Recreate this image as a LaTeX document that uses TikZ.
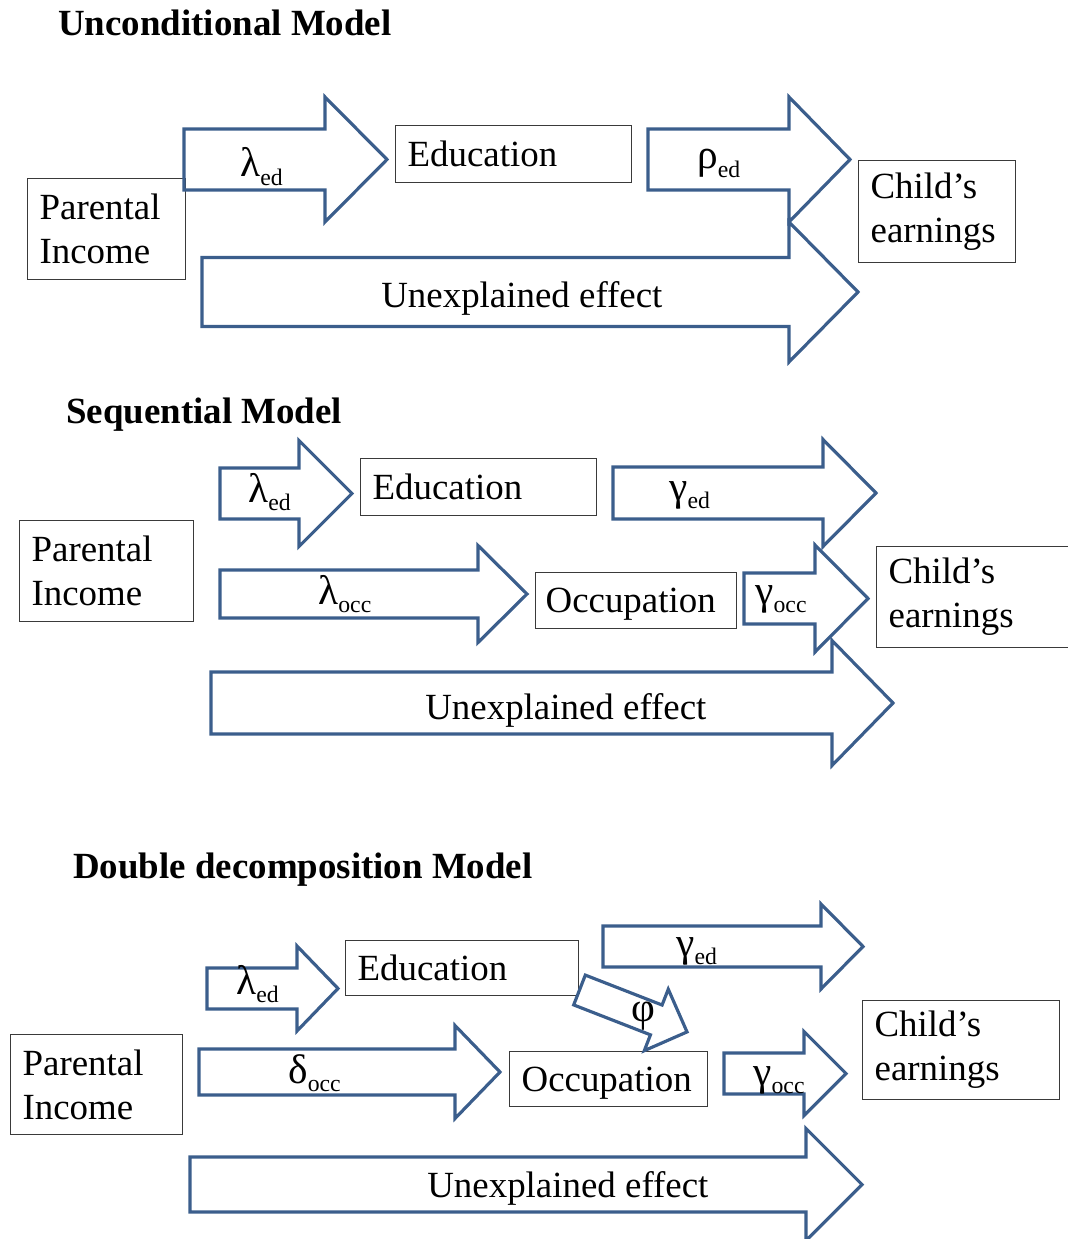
\documentclass[tikz,border=0pt]{standalone}
\usepackage{fontspec}
\setmainfont{Liberation Serif}
\usepackage{xcolor}
\usetikzlibrary{positioning}

\definecolor{arrowblue}{HTML}{3B5E8C}
\definecolor{boxgray}{HTML}{3A3A3A}

% coefficient with lowered index
\newcommand{\lowsub}[1]{\raisebox{-5pt}{\fontsize{13.5}{14}\selectfont #1}}
\newcommand{\coef}[2]{{\fontsize{23.5}{26}\selectfont #1}\lowsub{#2}}
% block arrow: left x, mid y, shaft half, head base x, head half, tip x
\newcommand{\bigarrow}[6]{%
  \draw[barrow] (#1,#2-#3) -- (#4,#2-#3) -- (#4,#2-#5) -- (#6,#2) -- (#4,#2+#5) -- (#4,#2+#3) -- (#1,#2+#3) -- cycle;}

\begin{document}
\begin{tikzpicture}[
    x=0.02cm, y=-0.02cm,
    font=\fontsize{21}{25}\selectfont,
    barrow/.style={draw=arrowblue, line width=1.8pt, line join=miter},
    box/.style={rectangle, draw=boxgray, line width=0.7pt, anchor=north west, align=left, inner xsep=0.24cm, inner ysep=0pt},
    onebox/.style={box, text depth=0pt},
    lbl/.style={anchor=base west, inner sep=0pt},
    ttl/.style={anchor=base west, inner sep=0pt, font=\fontsize{21}{25}\selectfont\bfseries}
]
\useasboundingbox (0,0) rectangle (1067,1239);

% Unconditional model
\node[ttl] (ttlU) at (58,36) {Unconditional Model};
\node[box, text width=2.68cm, minimum height=2.02cm] (parU) at (27,178) {Parental\\Income};
\node[onebox, text width=4.24cm, minimum height=1.14cm] (eduU) at (395,125) {Education};
\node[box, text width=2.66cm, minimum height=2.04cm] (chU) at (858,160) {Child’s\\earnings};
\bigarrow{184}{159.5}{30.5}{325}{62.5}{387}
\bigarrow{648}{159.5}{30.5}{789}{62.5}{850}
\bigarrow{202}{292}{34.5}{789}{70}{858}
\node[lbl] (lamU) at (240,177) {\coef{λ}{ed}};
\node[lbl] (rhoU) at (697,169) {\coef{ρ}{ed}};
\node[lbl] (unU) at (381,308) {Unexplained effect};

% Sequential model
\node[ttl] (ttlS) at (66,424) {Sequential Model};
\node[box, text width=3.0cm, minimum height=2.02cm] (parS) at (19,520) {Parental\\Income};
\node[onebox, text width=4.24cm, minimum height=1.14cm] (eduS) at (360,458) {Education};
\node[onebox, text width=3.62cm, minimum height=1.12cm, inner xsep=0.2cm] (occS) at (535,572) {Occupation};
\node[box, text width=3.52cm, minimum height=2.02cm] (chS) at (876,546) {Child’s\\earnings};
\bigarrow{220}{493.5}{25.5}{299}{53}{352}
\bigarrow{613}{493}{26}{823}{53.5}{876}
\bigarrow{220}{594}{24}{478}{48.5}{527}
\bigarrow{744}{598.5}{25.5}{815}{53.5}{868}
\bigarrow{211}{703}{31}{832}{62.5}{893}
\node[lbl] (lamS) at (248,502) {\coef{λ}{ed}};
\node[lbl] (gamS) at (669,500) {\coef{γ}{ed}};
\node[lbl] (lamoS) at (318,604) {\coef{λ}{occ}};
\node[lbl] (gamoS) at (755,604) {\coef{γ}{occ}};
\node[lbl] (unS) at (425,719) {Unexplained effect};

% Double decomposition model
\node[ttl] (ttlD) at (73,878) {Double decomposition Model};
\node[box, text width=2.96cm, minimum height=2.0cm] (parD) at (10,1034) {Parental\\Income};
\node[onebox, text width=4.18cm, minimum height=1.1cm] (eduD) at (345,940) {Education};
\node[onebox, text width=3.48cm, minimum height=1.1cm] (occD) at (509,1051) {Occupation};
\node[box, text width=3.46cm, minimum height=1.98cm] (chD) at (862,1000) {Child’s\\earnings};
\bigarrow{207}{988.5}{20.5}{297}{42.5}{338}
\bigarrow{603}{946.5}{20.5}{821}{42.5}{863}
\bigarrow{199}{1072}{23}{455}{46.5}{500}
\bigarrow{724}{1073.5}{20.5}{804}{42}{846}
\bigarrow{190}{1184.5}{27.5}{806}{56}{862}
\begin{scope}[shift={(579.5,990)}, rotate=-21.3]
  \bigarrow{0}{0}{16}{82.4}{33}{115.4}
\end{scope}
\node[lbl] (lamD) at (236,994) {\coef{λ}{ed}};
\node[lbl] (gamD) at (676,956) {\coef{γ}{ed}};
\node[inner sep=0pt, font=\fontsize{23.5}{26}\selectfont] (phiD) at (643,1016) {φ};
\node[lbl] (delD) at (288,1083) {\coef{δ}{occ}};
\node[lbl] (gamoD) at (753,1085) {\coef{γ}{occ}};
\node[lbl] (unD) at (427,1197) {Unexplained effect};

\end{tikzpicture}
\end{document}
